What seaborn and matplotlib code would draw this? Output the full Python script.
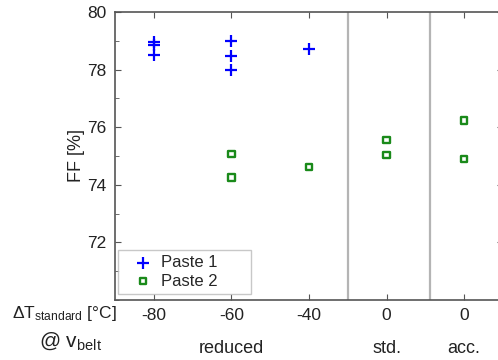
import pandas as pd
import seaborn as sns
import matplotlib.pyplot as plt
from matplotlib.ticker import MultipleLocator
from matplotlib.transforms import blended_transform_factory

# condition labels along the x axis
conditions = ["-80", "-60", "-40", "0", "0"]
belt_groups = ["reduced", "std.", "acc."]
group_pos = [1, 3, 4]

# FF values (x = index into conditions)
paste1_cond = [0, 0, 0, 1, 1, 1, 2]
paste1_ff = [78.95, 78.85, 78.5, 79.0, 78.47, 78.0, 78.73]
paste2_cond = [1, 1, 2, 3, 3, 4, 4]
paste2_ff = [75.08, 74.25, 74.62, 75.55, 75.03, 76.23, 74.9]

df1 = pd.DataFrame({"cond": paste1_cond, "FF": paste1_ff})
df2 = pd.DataFrame({"cond": paste2_cond, "FF": paste2_ff})

sns.set_style("ticks")
plt.rcParams["font.family"] = ["Liberation Sans", "DejaVu Sans"]
plt.rcParams["mathtext.fontset"] = "custom"
plt.rcParams["mathtext.rm"] = "Liberation Sans"
plt.rcParams["mathtext.it"] = "Liberation Sans"
txt = "#222222"

fig = plt.figure(figsize=(4.98, 3.6), dpi=100)
ax = fig.add_axes([0.231, 0.1667, 0.779, 0.80])

sns.scatterplot(data=df1, x="cond", y="FF", marker="+", s=70, color="#0000ff",
                linewidth=1.6, ax=ax, label="Paste 1      ", zorder=3)
sns.scatterplot(data=df2, x="cond", y="FF", marker="s", s=20, facecolors="none",
                edgecolor="#1a8a1a", linewidth=1.7, ax=ax, label="Paste 2      ", zorder=3)

# separators between belt speed groups
ax.axvline(2.5, color="#b4b4b4", lw=1.6, zorder=1)
ax.axvline(3.56, color="#b4b4b4", lw=1.6, zorder=1)

ax.set_xlim(-0.5, 4.5)
ax.set_ylim(70, 80)
ax.set_xticks(range(len(conditions)))
ax.set_xticklabels(conditions)
ax.yaxis.set_minor_locator(MultipleLocator(1))
ax.set_yticks([72, 74, 76, 78, 80])
ax.tick_params(axis="both", which="both", direction="in", top=True, right=True,
               labelsize=12.5, colors="#555555", labelcolor=txt, pad=6)
ax.tick_params(which="major", length=4)
ax.tick_params(which="minor", length=3)
for sp in ax.spines.values():
    sp.set_color("#555555")
    sp.set_linewidth(1.2)

ax.set_xlabel("")
ax.set_ylabel("FF [%]", fontsize=13, color=txt, labelpad=2)

trans = blended_transform_factory(ax.transData, ax.transAxes)
for g, p in zip(belt_groups, group_pos):
    ax.text(p, -0.14, g, transform=trans, ha="center", va="top", fontsize=13, color=txt)

fig.text(0.234, 0.13, r"$\Delta$T$_{\mathrm{standard}}$ [°C]", ha="right", va="center",
         fontsize=12.5, color=txt)
fig.text(0.205, 0.052, r"@ v$_{\mathrm{belt}}$", ha="right", va="center",
         fontsize=15, color=txt)

leg = ax.legend(loc="lower left", fontsize=12, frameon=True, fancybox=False,
                handletextpad=-0.1, borderaxespad=0.0, labelspacing=0.2,
                handlelength=2.4, borderpad=0.3, bbox_to_anchor=(0.008, 0.022))
leg.get_frame().set_edgecolor("#bbbbbb")
leg.get_frame().set_linewidth(1.0)

fig.savefig("out.png", dpi=100)
